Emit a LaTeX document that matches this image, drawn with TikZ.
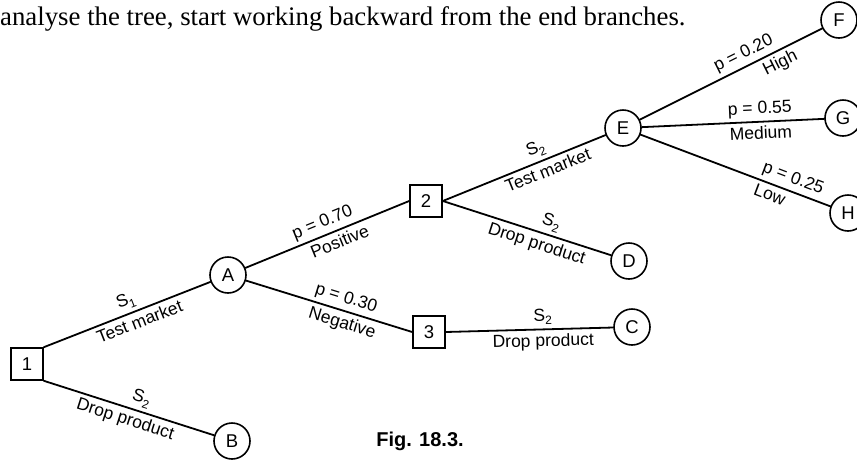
\documentclass[tikz,border=0pt]{standalone}
\usepackage{fontspec}
\setmainfont{Liberation Serif}
\newfontfamily\lblfont{Liberation Sans}
\newcommand\lowidx[1]{\raisebox{-0.45ex}{\fontsize{12}{12}\selectfont #1}}
\begin{document}
\begin{tikzpicture}[x=1pt,y=1pt,
  conn/.style={line width=1.8pt, line cap=round},
  chance/.style={circle, draw, line width=1.6pt, minimum size=36pt, inner sep=0pt, font=\lblfont\fontsize{18.5}{18.5}\selectfont},
  dec/.style={rectangle, draw, line width=1.6pt, minimum size=32pt, inner sep=0pt, font=\lblfont\fontsize{18.5}{18.5}\selectfont},
  lab/.style={font=\lblfont\fontsize{17.5}{17.5}\selectfont, inner sep=3.5pt, sloped}]
\useasboundingbox (0,-459) rectangle (857,0);
\node[anchor=base west, inner sep=0pt, font=\fontsize{26.8}{26.8}\selectfont] (title) at (0,-25) {analyse the tree, start working backward from the end branches.};
\node[dec] (n1) at (27,-364) {1};
\node[dec] (n2) at (426,-201) {2};
\node[dec] (n3) at (429,-332) {3};
\node[chance] (A) at (228,-275) {A};
\node[chance] (B) at (232,-441) {B};
\node[chance] (C) at (632,-327) {C};
\node[chance] (D) at (629,-261) {D};
\node[chance] (E) at (623,-128) {E};
\node[chance] (F) at (839,-20) {F};
\node[chance] (G) at (843,-118) {G};
\node[chance] (H) at (848,-213) {H};
\draw[conn] (n1.north east) -- node[lab, above, pos=0.52] {S\lowidx{1}} node[lab, below, pos=0.55] {Test market} (A);
\draw[conn] (n1.south east) -- node[lab, above, pos=0.55] {S\lowidx{2}} node[lab, below, pos=0.5] {Drop product} (B);
\draw[conn] (A) -- node[lab, above, pos=0.5] {p = 0.70} node[lab, below, pos=0.55] {Positive} (n2.west);
\draw[conn] (A) -- node[lab, above, pos=0.58] {p = 0.30} node[lab, below, pos=0.6] {Negative} (n3.west);
\draw[conn] (n2.east) -- node[lab, above, pos=0.6] {S\lowidx{2}} node[lab, below, pos=0.62] {Test market} (E);
\draw[conn] (n2.east) -- node[lab, above, pos=0.62] {S\lowidx{2}} node[lab, below, pos=0.58] {Drop product} (D);
\draw[conn] (n3.east) -- node[lab, above, pos=0.58] {S\lowidx{2}} node[lab, below, pos=0.58] {Drop product} (C);
\draw[conn] (E) -- node[lab, above, pos=0.6] {p = 0.20} node[lab, below, pos=0.74] {High} (F);
\draw[conn] (E) -- node[lab, above, pos=0.65] {p = 0.55} node[lab, below, pos=0.65] {Medium} (G);
\draw[conn] (E) -- node[lab, above, pos=0.78] {p = 0.25} node[lab, below, pos=0.7] {Low} (H);
\node[font=\lblfont\bfseries\fontsize{20}{20}\selectfont, inner sep=0pt] (fig) at (420,-441) {Fig. 18.3.};
\end{tikzpicture}
\end{document}
